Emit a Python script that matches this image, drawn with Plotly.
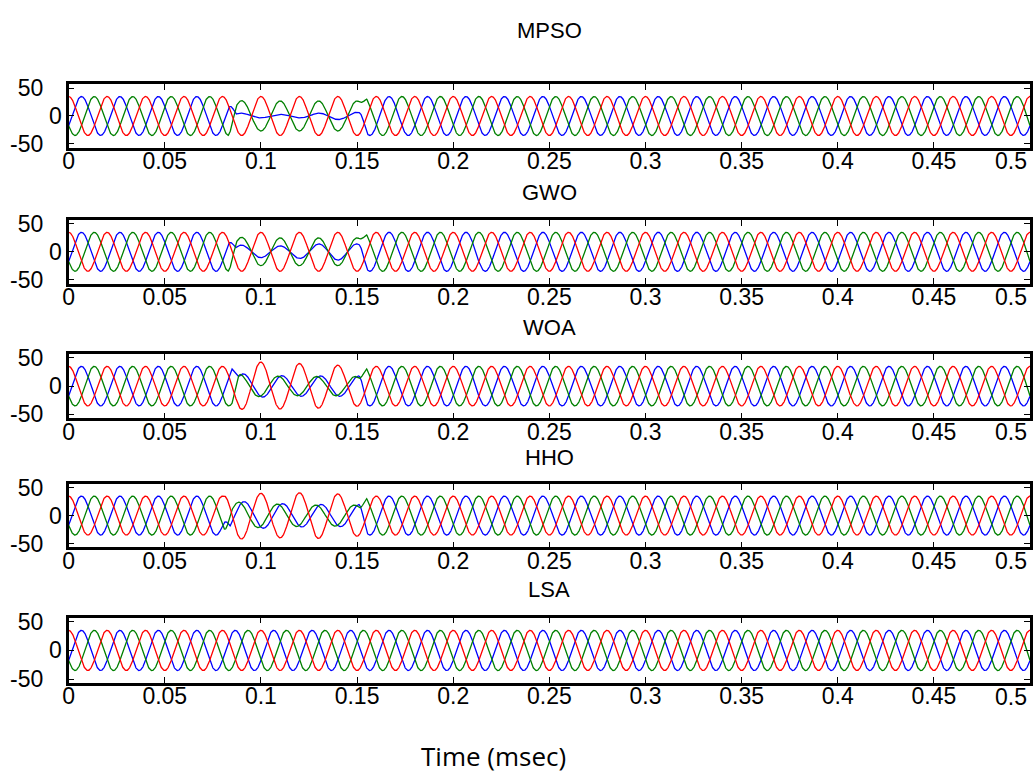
import numpy as np
import plotly.graph_objects as go

# ---- panel labels and axis ticks -------------------------------------------
panel_names = ["MPSO", "GWO", "WOA", "HHO", "LSA"]
x_tick_vals = [0, 0.05, 0.1, 0.15, 0.2, 0.25, 0.3, 0.35, 0.4, 0.45, 0.5]
x_tick_text = ["0", "0.05", "0.1", "0.15", "0.2", "0.25", "0.3", "0.35", "0.4", "0.45", ""]
last_x_label = "0.5"
y_tick_vals = [-50, 0, 50]
y_tick_text = ["-50", "", "50"]
zero_y_label = "0"
x_label = "Time (msec)"

# ---- steady-state three-phase supply ---------------------------------------
supply_freq_hz = 50
nominal_peak = 35
phase_keys = ["b", "c", "a"]                      # drawing order
phase_colors = {"a": "#ff0000", "b": "#0000ff", "c": "#008000"}
phase_angle_deg = {"a": 0, "b": -120, "c": 120}   # v = peak * cos(wt + angle)

# ---- disturbance per optimiser: window, peak per 10 ms step, angle ---------
fault_window = {
    "MPSO": (0.083, 0.155),
    "GWO": (0.083, 0.155),
    "WOA": (0.085, 0.155),
    "HHO": (0.080, 0.155),
    "LSA": None,
}
fault_step_t = [0.085, 0.095, 0.105, 0.115, 0.125, 0.135, 0.145, 0.155]
fault_peaks = {
    "MPSO": {"a": [35, 35, 35, 35, 35, 35, 35, 35],
             "b": [6, 4, 3, 3, 4, 6, 7, 6],
             "c": [28, 27, 27, 27, 27, 27, 27, 27]},
    "GWO": {"a": [35, 35, 35, 35, 35, 35, 35, 35],
            "b": [13, 11, 10, 11, 13, 15, 15, 13],
            "c": [27, 25, 25, 25, 25, 25, 25, 25]},
    "WOA": {"a": [38, 44, 41, 40, 40, 38, 36, 35],
            "b": [24, 20, 19, 18, 18, 18, 18, 18],
            "c": [22, 19, 18, 17, 17, 17, 17, 17]},
    "HHO": {"a": [44, 40, 40, 40, 42, 40, 38, 36],
            "b": [27, 24, 22, 21, 20, 20, 20, 20],
            "c": [25, 22, 21, 20, 19, 19, 19, 19]},
}
fault_angle_deg = {
    "MPSO": {"a": 0, "b": 180, "c": 180},
    "GWO": {"a": 0, "b": 180, "c": 180},
    "WOA": {"a": 0, "b": 162, "c": 198},
    "HHO": {"a": 0, "b": 155, "c": 205},
}
ramp_s = 0.004

# ---- page geometry (pixels from top-left of the 1035 x 783 page) -----------
W, H = 1035, 783
plot_left, plot_right = 63, 1030
panel_rows_px = [(77, 142), (216, 281), (353, 419), (486, 551), (623, 690)]
title_y_px = [22, 188, 326, 459, 594]

t = np.linspace(0, 0.5, 4001)
w = 2 * np.pi * supply_freq_hz


def phase_wave(name, key):
    steady = nominal_peak * np.cos(w * t + np.radians(phase_angle_deg[key]))
    win = fault_window[name]
    if win is None:
        return steady
    t_on, t_off = win
    peak = np.interp(t, fault_step_t, fault_peaks[name][key])
    faulted = peak * np.cos(w * t + np.radians(fault_angle_deg[name][key]))
    blend = np.clip((t - t_on) / ramp_s, 0, 1) * np.clip((t_off - t) / ramp_s, 0, 1)
    return (1 - blend) * steady + blend * faulted


fig = go.Figure()
font_ticks = dict(family="Liberation Sans, Arial, sans-serif", size=23, color="#000000")
annotations = []

for i, name in enumerate(panel_names):
    ax = "" if i == 0 else str(i + 1)
    top_px, bot_px = panel_rows_px[i]
    for key in phase_keys:
        fig.add_trace(go.Scatter(
            x=t, y=phase_wave(name, key), mode="lines",
            line=dict(color=phase_colors[key], width=1.3),
            xaxis="x" + ax, yaxis="y" + ax, showlegend=False, hoverinfo="skip",
        ))
    axis_common = dict(
        showline=True, linewidth=2.5, linecolor="#000000", mirror="allticks",
        ticks="inside", ticklen=6, tickwidth=1.2, tickcolor="#000000",
        showgrid=False, zeroline=False, tickfont=font_ticks,
    )
    fig.layout["xaxis" + ax] = dict(
        axis_common, domain=[plot_left / W, plot_right / W], range=[0, 0.5],
        tickmode="array", tickvals=x_tick_vals, ticktext=x_tick_text,
        anchor="y" + ax, ticklabelstandoff=-9,
    )
    fig.layout["yaxis" + ax] = dict(
        axis_common, domain=[1 - bot_px / H, 1 - top_px / H], range=[-57, 57],
        tickmode="array", tickvals=y_tick_vals, ticktext=y_tick_text,
        anchor="x" + ax, ticklabelstandoff=18,
    )
    annotations.append(dict(
        text=name, xref="paper", yref="paper", x=(plot_left + plot_right) / 2 / W,
        y=1 - title_y_px[i] / H, xanchor="center", yanchor="middle", showarrow=False,
        font=dict(family="Liberation Sans, Arial, sans-serif", size=22, color="#000000"),
    ))
    annotations.append(dict(
        text=last_x_label, xref="x" + ax, yref="paper", x=0.5,
        y=1 - (bot_px + 14) / H, xanchor="right", yanchor="middle", showarrow=False,
        xshift=-1, font=font_ticks,
    ))
    annotations.append(dict(
        text=zero_y_label, xref="paper", yref="y" + ax, x=58 / W, y=0,
        xanchor="right", yanchor="middle", showarrow=False, font=font_ticks,
    ))

annotations.append(dict(
    text=x_label, xref="paper", yref="paper", x=490 / W, y=1 - 765 / H,
    xanchor="center", yanchor="middle", showarrow=False,
    font=dict(family="Open Sans, Lato, sans-serif", size=26, color="#000000"),
))

fig.update_layout(
    width=W, height=H, margin=dict(l=0, r=0, t=0, b=0),
    paper_bgcolor="#ffffff", plot_bgcolor="#ffffff",
    annotations=annotations,
)

fig.write_html("out.html")
